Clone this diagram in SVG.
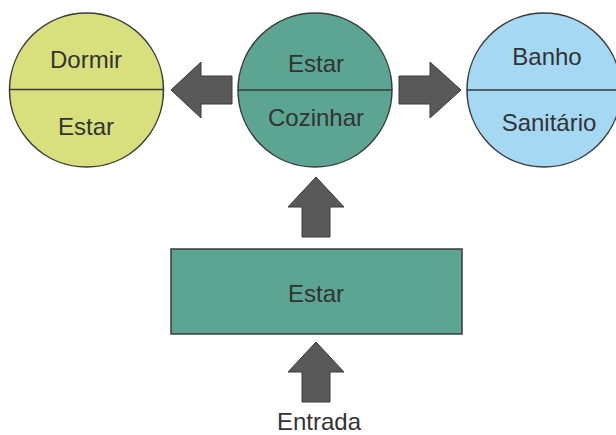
<svg xmlns="http://www.w3.org/2000/svg" width="616" height="435" viewBox="0 0 616 435">
<defs>
<style>
.n{stroke:#3a3a3a;stroke-width:1.5}
.d{stroke:#3a3a3a;stroke-width:1.5;fill:none}
.t{font-family:"Liberation Sans",Arial,sans-serif;font-size:24px;fill:#333333;text-anchor:middle}
.a{fill:#595959;stroke:#3a3a3a;stroke-width:1}
</style>
</defs>
<rect width="616" height="435" fill="#ffffff"/>
<g id="dormir">
<circle class="n" cx="86.5" cy="90" r="77" fill="#d8e07d"/>
<line class="d" x1="9.5" y1="89.5" x2="163.5" y2="89.5"/>
<text class="t" x="86" y="68">Dormir</text>
<text class="t" x="86" y="135">Estar</text>
</g>
<g id="estar-cozinhar">
<circle class="n" cx="315" cy="90" r="77" fill="#5ba592"/>
<line class="d" x1="238" y1="90" x2="392" y2="90"/>
<text class="t" x="316" y="72">Estar</text>
<text class="t" x="316" y="126">Cozinhar</text>
</g>
<g id="banho">
<circle class="n" cx="544" cy="90" r="77" fill="#a5d8f3"/>
<line class="d" x1="467" y1="90" x2="621" y2="90"/>
<text class="t" x="547" y="65">Banho</text>
<text class="t" x="549" y="131">Sanitário</text>
</g>
<g id="estar">
<rect class="n" x="171" y="249" width="291" height="85" fill="#5ba592"/>
<text class="t" x="316" y="302">Estar</text>
</g>
<g id="entrada">
<text class="t" x="319" y="430">Entrada</text>
</g>
<g id="connectors">
<polygon class="a" points="171,90 201,62 201,76 232,76 232,104 201,104 201,118"/>
<polygon class="a" points="399,76 430,76 430,62 461,90 430,118 430,104 399,104"/>
<polygon class="a" points="316,177 344,207 330,207 330,237 302,237 302,207 288,207"/>
<polygon class="a" points="316,342 344,372 330,372 330,402 302,402 302,372 288,372"/>
</g>
</svg>
